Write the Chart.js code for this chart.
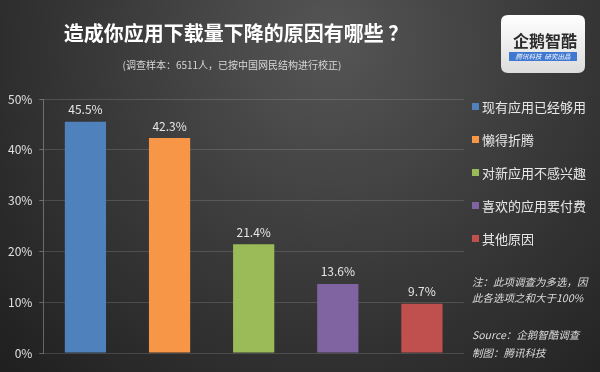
<!DOCTYPE html>
<html>
<head>
<meta charset="utf-8">
<script src="https://cdn.jsdelivr.net/npm/chart.js@4/dist/chart.umd.min.js"></script>
<style>
html,body{margin:0;padding:0;background:#2a2a2a;}
#wrap{width:600px;height:372px;position:relative;}
</style>
</head>
<body>
<div id="wrap"><canvas id="c" width="600" height="372"></canvas></div>
<script>
const categories = ["现有应用已经够用", "懒得折腾", "对新应用不感兴趣", "喜欢的应用要付费", "其他原因"];
const values = [45.5, 42.3, 21.4, 13.6, 9.7];
const colors = ["#4f81bd", "#f79646", "#9bbb59", "#8064a2", "#c0504d"];
const yTicks = [0, 10, 20, 30, 40, 50];
const titleText = "造成你应用下载量下降的原因有哪些 ？";
const subtitleText = "(调查样本：6511人，已按中国网民结构进行校正)";
const noteLines = ["注：此项调查为多选，因", "此各选项之和大于100%"];
const sourceLines = ["Source：企鹅智酷调查", "制图：腾讯科技"];

const FONT = '"Noto Sans CJK SC", "Noto Sans", sans-serif';

const bgPlugin = {
  id: 'bg',
  beforeDraw(chart) {
    const ctx = chart.ctx;
    ctx.save();
    const g = ctx.createRadialGradient(330, 40, 10, 330, 60, 480);
    g.addColorStop(0, '#545454');
    g.addColorStop(0.45, '#3a3a3a');
    g.addColorStop(1, '#1c1c1c');
    ctx.fillStyle = g;
    ctx.fillRect(0, 0, chart.width, chart.height);
    ctx.restore();
  }
};

const decoPlugin = {
  id: 'deco',
  afterDraw(chart) {
    const ctx = chart.ctx;
    ctx.save();
    // title
    ctx.fillStyle = '#ffffff';
    ctx.textAlign = 'center';
    ctx.textBaseline = 'middle';
    ctx.font = 'bold 20px ' + FONT;
    ctx.fillText(titleText, 236, 33);
    ctx.fillStyle = '#d8d8d8';
    ctx.font = '10px ' + FONT;
    ctx.fillText(subtitleText, 232, 65);

    // value labels
    const meta = chart.getDatasetMeta(0);
    ctx.font = '12px ' + FONT;
    ctx.fillStyle = '#e6e6e6';
    meta.data.forEach((bar, i) => {
      ctx.fillText(values[i].toFixed(1) + '%', bar.x, bar.y - 12);
    });

    // legend
    ctx.textAlign = 'left';
    ctx.font = '13px ' + FONT;
    categories.forEach((c, i) => {
      const y = 107 + i * 33;
      ctx.fillStyle = colors[i];
      ctx.fillRect(472, y - 4, 7, 7);
      ctx.fillStyle = '#e8e8e8';
      ctx.fillText(c, 482, y);
    });

    // notes
    ctx.font = 'italic 10.5px ' + FONT;
    ctx.fillStyle = '#dcdcdc';
    noteLines.forEach((t, i) => ctx.fillText(t, 472, 282 + i * 16));
    sourceLines.forEach((t, i) => ctx.fillText(t, 472, 335 + i * 18));

    // logo
    const lx = 501, ly = 15, lw = 84, lh = 58, r = 7;
    ctx.beginPath();
    ctx.moveTo(lx + r, ly);
    ctx.lineTo(lx + lw - r, ly);
    ctx.quadraticCurveTo(lx + lw, ly, lx + lw, ly + r);
    ctx.lineTo(lx + lw, ly + lh - r);
    ctx.quadraticCurveTo(lx + lw, ly + lh, lx + lw - r, ly + lh);
    ctx.lineTo(lx + r, ly + lh);
    ctx.quadraticCurveTo(lx, ly + lh, lx, ly + lh - r);
    ctx.lineTo(lx, ly + r);
    ctx.quadraticCurveTo(lx, ly, lx + r, ly);
    ctx.closePath();
    const lg = ctx.createLinearGradient(0, ly, 0, ly + lh);
    lg.addColorStop(0, '#ffffff');
    lg.addColorStop(1, '#dcdcdc');
    ctx.fillStyle = lg;
    ctx.fill();
    ctx.fillStyle = '#2b2b2b';
    ctx.font = 'bold 16px ' + FONT;
    ctx.textAlign = 'center';
    ctx.fillText('企鹅智酷', lx + lw / 2 + 2, ly + 26);
    ctx.fillStyle = '#3f78d0';
    ctx.fillRect(lx + 8, ly + 37, lw - 16, 9);
    ctx.fillStyle = '#ffffff';
    ctx.font = 'italic 6.5px ' + FONT;
    ctx.fillText('腾讯科技  研究出品', lx + lw / 2, ly + 41.5);
    ctx.restore();
  }
};

new Chart(document.getElementById('c'), {
  type: 'bar',
  data: {
    labels: categories,
    datasets: [{
      data: values,
      backgroundColor: colors,
      borderWidth: 0,
      barPercentage: 0.49,
      categoryPercentage: 1.0
    }]
  },
  options: {
    responsive: false,
    animation: false,
    devicePixelRatio: 1,
    layout: { padding: { top: 99, left: 1, right: 136, bottom: 11 } },
    plugins: {
      legend: { display: false },
      tooltip: { enabled: false }
    },
    scales: {
      x: {
        offset: true,
        grid: { display: false },
        border: { display: false },
        ticks: { display: false }
      },
      y: {
        min: 0,
        max: 50,
        afterBuildTicks(scale) { scale.ticks = yTicks.map(v => ({ value: v })); },
        grid: { color: 'rgba(255,255,255,0.14)', tickLength: 4, tickColor: 'rgba(255,255,255,0.3)' },
        border: { color: 'rgba(255,255,255,0.3)' },
        ticks: {
          padding: 7,
          color: '#e0e0e0',
          font: { family: FONT, size: 12 },
          callback: v => v + '%'
        }
      }
    }
  },
  plugins: [bgPlugin, decoPlugin]
});
</script>
</body>
</html>
